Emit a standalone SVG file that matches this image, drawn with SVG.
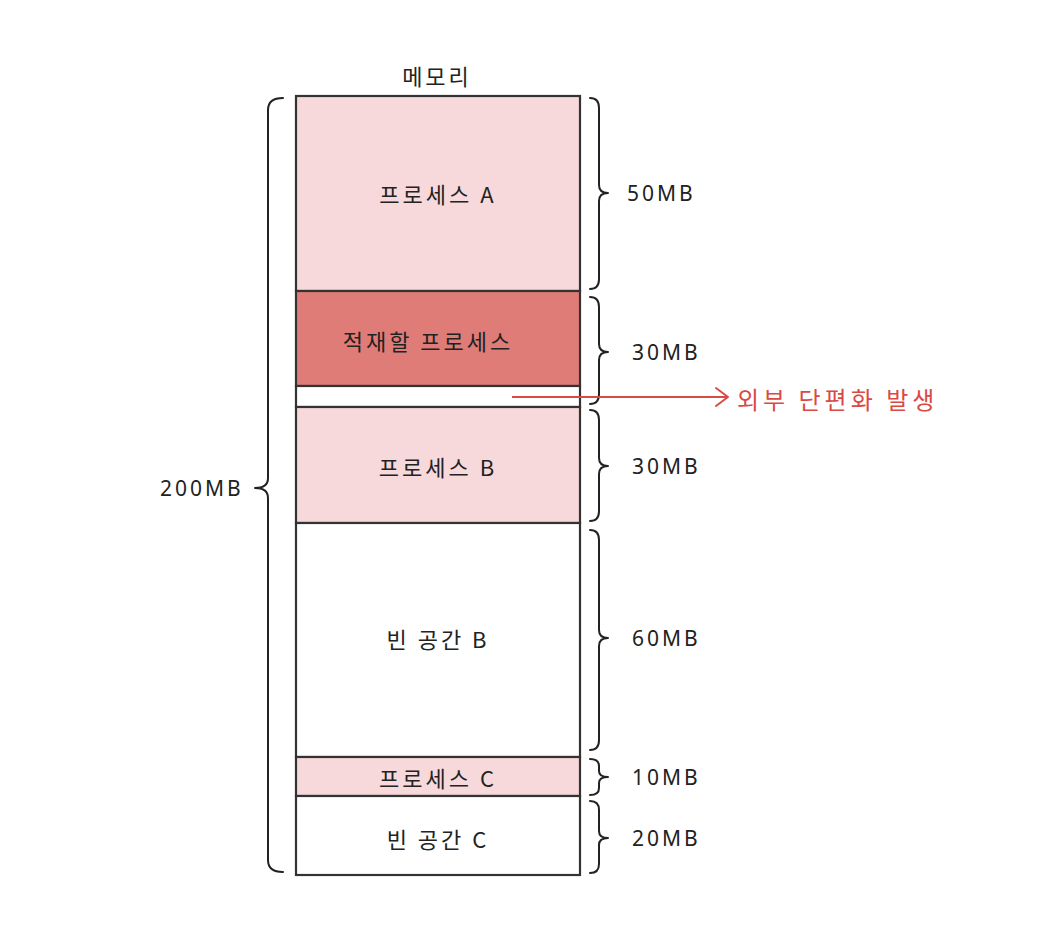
<svg xmlns="http://www.w3.org/2000/svg" width="1052" height="934" viewBox="0 0 1052 934">
<style>
.seg{stroke:#333;stroke-width:2.2}
.pink{fill:#f8d9db}
.dark{fill:#e07c78}
.white{fill:#ffffff}
.t{font-family:"Noto Sans CJK KR","Noto Sans",sans-serif;font-size:22px;fill:#222;letter-spacing:3px;text-anchor:middle;dominant-baseline:central}
.n{font-family:"Noto Sans","Noto Sans CJK KR",sans-serif;font-size:21px;fill:#222;letter-spacing:3px;dominant-baseline:central}
.brace{fill:none;stroke:#222;stroke-width:2;stroke-linecap:round;stroke-linejoin:round}
.red{font-family:"Noto Sans CJK KR","Noto Sans",sans-serif;font-size:24px;fill:#d94a45;letter-spacing:4px;dominant-baseline:central}
</style>
<rect width="1052" height="934" fill="#ffffff"/>
<text class="t" x="437" y="75">메모리</text>
<g id="procA"><rect class="seg pink" x="296" y="96" width="284" height="195"/><text class="t" x="438" y="193">프로세스 A</text></g>
<g id="loadProc"><rect class="seg dark" x="296" y="291" width="284" height="95"/><text class="t" x="428" y="340">적재할 프로세스</text></g>
<g id="gap"><rect class="seg white" x="296" y="386" width="284" height="21"/></g>
<g id="procB"><rect class="seg pink" x="296" y="407" width="284" height="116"/><text class="t" x="438" y="466">프로세스 B</text></g>
<g id="freeB"><rect class="seg white" x="296" y="523" width="284" height="234"/><text class="t" x="438" y="638">빈 공간 B</text></g>
<g id="procC"><rect class="seg pink" x="296" y="757" width="284" height="39"/><text class="t" x="438" y="777">프로세스 C</text></g>
<g id="freeC"><rect class="seg white" x="296" y="796" width="284" height="79"/><text class="t" x="438" y="838">빈 공간 C</text></g>
<g id="braces">
<path class="brace" d="M590 98 Q599 98 599 108 L599 185 Q599 193 608 193 Q599 193 599 201 L599 279 Q599 289 590 289"/>
<text class="n" x="627" y="193">50MB</text>
<path class="brace" d="M590 297 Q599 297 599 307 L599 344 Q599 352 608 352 Q599 352 599 360 L599 394 Q599 404 590 404"/>
<text class="n" x="632" y="352">30MB</text>
<path class="brace" d="M590 410 Q599 410 599 420 L599 458 Q599 466 608 466 Q599 466 599 474 L599 511 Q599 521 590 521"/>
<text class="n" x="632" y="466">30MB</text>
<path class="brace" d="M590 530 Q599 530 599 540 L599 630 Q599 638 608 638 Q599 638 599 646 L599 740 Q599 750 590 750"/>
<text class="n" x="632" y="638">60MB</text>
<path class="brace" d="M590 759 Q599 759 599 766 L599 771 Q599 777 608 777 Q599 777 599 783 L599 788 Q599 795 590 795"/>
<text class="n" x="632" y="777">10MB</text>
<path class="brace" d="M590 801 Q599 801 599 810 L599 831 Q599 838 608 838 Q599 838 599 845 L599 864 Q599 873 590 873"/>
<text class="n" x="632" y="838">20MB</text>
<path class="brace" d="M283 98 Q268 98 268 110 L268 478 Q268 488 255 488 Q268 488 268 498 L268 860 Q268 872 283 872"/>
<text class="n" x="160" y="488">200MB</text>
</g>
<g id="connectors">
<path d="M512 397 L728 397" stroke="#d94a45" stroke-width="2" fill="none"/>
<path d="M716 388 L728 397 L716 406" stroke="#d94a45" stroke-width="2" fill="none" stroke-linecap="round" stroke-linejoin="round"/>
</g>
<g id="label"><text class="red" x="737" y="398">외부 단편화 발생</text></g>
</svg>
